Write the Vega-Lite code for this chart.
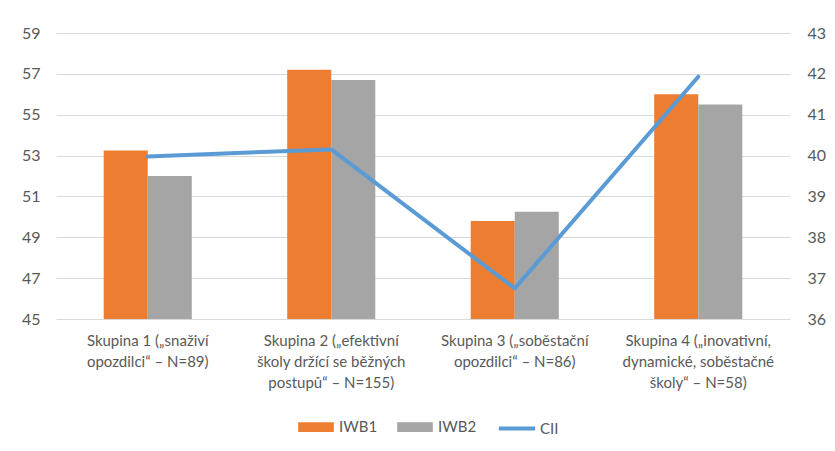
{
  "$schema": "https://vega.github.io/schema/vega-lite/v6.json",
  "width": 734,
  "height": 286,
  "autosize": "none",
  "padding": {"left": 56, "top": 33, "right": 45, "bottom": 132},
  "background": "white",
  "config": {
    "view": {"stroke": null},
    "font": "Lato",
    "axis": {"labelColor": "#595959", "title": null, "ticks": false, "domain": false, "labelFont": "Lato"},
    "legend": {"labelFont": "Lato"}
  },
  "datasets": {
    "bars": [
      {"skupina": "Skupina 1 („snaživí\nopozdilci“ – N=89)", "serie": "IWB1", "hodnota": 53.25},
      {"skupina": "Skupina 1 („snaživí\nopozdilci“ – N=89)", "serie": "IWB2", "hodnota": 52.0},
      {"skupina": "Skupina 2 („efektivní\nškoly držící se běžných\npostupů“ – N=155)", "serie": "IWB1", "hodnota": 57.2},
      {"skupina": "Skupina 2 („efektivní\nškoly držící se běžných\npostupů“ – N=155)", "serie": "IWB2", "hodnota": 56.7},
      {"skupina": "Skupina 3 („soběstační\nopozdilci“ – N=86)", "serie": "IWB1", "hodnota": 49.8},
      {"skupina": "Skupina 3 („soběstační\nopozdilci“ – N=86)", "serie": "IWB2", "hodnota": 50.25},
      {"skupina": "Skupina 4 („inovativní,\ndynamické, soběstačné\nškoly“ – N=58)", "serie": "IWB1", "hodnota": 56.0},
      {"skupina": "Skupina 4 („inovativní,\ndynamické, soběstačné\nškoly“ – N=58)", "serie": "IWB2", "hodnota": 55.5}
    ],
    "line": [
      {"skupina": "Skupina 1 („snaživí\nopozdilci“ – N=89)", "serie": "CII", "hodnota": 39.98},
      {"skupina": "Skupina 2 („efektivní\nškoly držící se běžných\npostupů“ – N=155)", "serie": "CII", "hodnota": 40.15},
      {"skupina": "Skupina 3 („soběstační\nopozdilci“ – N=86)", "serie": "CII", "hodnota": 36.75},
      {"skupina": "Skupina 4 („inovativní,\ndynamické, soběstačné\nškoly“ – N=58)", "serie": "CII", "hodnota": 41.93}
    ]
  },
  "layer": [
    {
      "data": {"name": "bars"},
      "mark": {"type": "bar"},
      "encoding": {
        "x": {
          "field": "skupina", "type": "nominal", "sort": null,
          "scale": {"paddingInner": 0.52, "paddingOuter": 0.26},
          "axis": {"labelAngle": 0, "labelExpr": "split(datum.value, '\\n')", "labelFontSize": 15, "labelLineHeight": 21, "labelPadding": 14, "grid": false, "labelLimit": 300}
        },
        "xOffset": {"field": "serie", "type": "nominal", "sort": ["IWB1", "IWB2"]},
        "y": {
          "field": "hodnota", "type": "quantitative",
          "scale": {"domain": [45, 59], "nice": false, "zero": false},
          "axis": {"orient": "left", "values": [45, 47, 49, 51, 53, 55, 57, 59], "grid": true, "gridColor": "#d9d9d9", "gridWidth": 1, "labelFontSize": 16, "labelPadding": 16}
        },
        "y2": {"datum": 45},
        "color": {
          "field": "serie", "type": "nominal",
          "scale": {"domain": ["IWB1", "IWB2", "CII"], "range": ["#ED7D31", "#A5A5A5", "#5B9BD5"]},
          "legend": {
            "title": null, "orient": "none", "direction": "horizontal", "legendX": 242, "legendY": 376,
            "labelFontSize": 15, "labelColor": "#595959", "symbolSize": 1000, "labelOffset": 5, "columnPadding": 13,
            "encode": {
              "symbols": {
                "update": {
                  "shape": {"signal": "datum.value === 'CII' ? 'M-1.15,0H1.15' : 'M-1,-0.18H1V0.18H-1Z'"},
                  "fill": {"signal": "datum.value === 'IWB1' ? '#ED7D31' : datum.value === 'IWB2' ? '#A5A5A5' : 'transparent'"},
                  "stroke": {"signal": "datum.value === 'CII' ? '#5B9BD5' : 'transparent'"},
                  "strokeWidth": {"value": 4},
                  "opacity": {"value": 1}
                }
              }
            }
          }
        }
      }
    },
    {
      "data": {"name": "line"},
      "mark": {"type": "line", "strokeWidth": 4, "strokeJoin": "round", "strokeCap": "round"},
      "encoding": {
        "x": {"field": "skupina", "type": "nominal", "sort": null},
        "y": {
          "field": "hodnota", "type": "quantitative",
          "scale": {"domain": [36, 43], "nice": false, "zero": false},
          "axis": {"orient": "right", "values": [36, 37, 38, 39, 40, 41, 42, 43], "grid": false, "labelFontSize": 16, "labelPadding": 17}
        },
        "color": {"field": "serie", "type": "nominal"}
      }
    }
  ],
  "resolve": {"scale": {"y": "independent"}}
}
